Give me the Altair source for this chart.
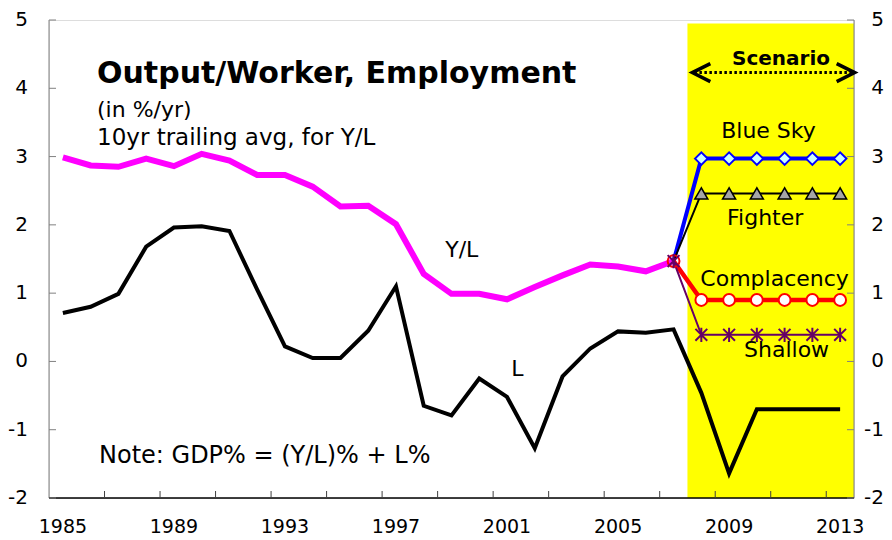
import altair as alt
import pandas as pd

# ---------------- data ----------------
hist_years = list(range(1985, 2008))
yl_values = [2.99, 2.87, 2.85, 2.97, 2.86, 3.04, 2.94, 2.73, 2.73, 2.56, 2.27, 2.28,
             2.01, 1.28, 0.99, 0.99, 0.91, 1.09, 1.26, 1.42, 1.39, 1.32, 1.47]

l_years = list(range(1985, 2014))
l_values = [0.71, 0.80, 0.99, 1.68, 1.96, 1.98, 1.91, 1.05, 0.22, 0.05, 0.05, 0.45,
            1.10, -0.65, -0.79, -0.25, -0.52, -1.27, -0.22, 0.19, 0.44, 0.42, 0.47,
            -0.46, -1.64, -0.70, -0.70, -0.70, -0.70]

scen_years = list(range(2007, 2014))
blue_sky = [1.47, 2.97, 2.97, 2.97, 2.97, 2.97, 2.97]
fighter = [1.47, 2.46, 2.46, 2.46, 2.46, 2.46, 2.46]
complacency = [1.47, 0.90, 0.90, 0.90, 0.90, 0.90, 0.90]
shallow = [1.47, 0.39, 0.39, 0.39, 0.39, 0.39, 0.39]

x_label_years = [1985, 1989, 1993, 1997, 2001, 2005, 2009, 2013]
x_tick_years = [1986.5 + 2 * i for i in range(14)]
y_ticks = [-2, -1, 0, 1, 2, 3, 4, 5]

band_start, band_end = 2007.5, 2013.5
band_top, band_bottom = 4.95, -2

series_labels = ["Blue Sky", "Fighter", "Complacency", "Shallow", "Y/L", "L"]
series_label_x = [2010.42, 2010.3, 2010.64, 2011.07, 1999.37, 2001.37]
series_label_y = [3.27, 2.0, 1.10, 0.07, 1.53, -0.22]

arrow_x = [2007.75, 2013.45]
arrow_head_x = [2008.0, 2013.2]
arrow_y = 4.23

FONT = "DejaVu Sans"
W, H = 805, 478

xs = alt.Scale(domain=[1984.5, 2013.5], nice=False, zero=False)
ys = alt.Scale(domain=[-2, 5], nice=False, zero=False)

# ---------------- frames ----------------
df_yl = pd.DataFrame({"year": hist_years, "v": yl_values})
df_l = pd.DataFrame({"year": l_years, "v": l_values})


def scen_df(vals):
    return pd.DataFrame({"year": scen_years, "v": vals})


df_band = pd.DataFrame({"x": [band_start], "x2": [band_end], "y": [band_top], "y2": [band_bottom]})
df_lab = pd.DataFrame({"t": series_labels, "x": series_label_x, "y": series_label_y})
df_xt = pd.DataFrame({"x": x_tick_years})
df_xl = pd.DataFrame({"x": x_label_years, "t": [str(v) for v in x_label_years]})
df_yt = pd.DataFrame({"y": y_ticks, "t": [str(v) for v in y_ticks]})
df_arrow = pd.DataFrame({"x": [arrow_x[0]], "x2": [arrow_x[1]], "y": [arrow_y]})
df_heads = pd.DataFrame({"x": arrow_head_x, "y": [arrow_y, arrow_y],
                         "s": ["M1,-1L-1,0L1,1", "M-1,-1L1,0L-1,1"]})


def X(f="year"):
    return alt.X(f"{f}:Q", scale=xs, axis=None)


def Y(f="v"):
    return alt.Y(f"{f}:Q", scale=ys, axis=None)


band = alt.Chart(df_band).mark_rect(color="#FFFF00").encode(
    x=X("x"), x2="x2:Q", y=Y("y"), y2="y2:Q")

line_l = alt.Chart(df_l).mark_line(color="#000000", strokeWidth=4, strokeJoin="miter").encode(x=X(), y=Y())
line_yl = alt.Chart(df_yl).mark_line(color="#FF00FF", strokeWidth=6, strokeJoin="miter").encode(x=X(), y=Y())

d_blue = scen_df(blue_sky)
d_fight = scen_df(fighter)
d_comp = scen_df(complacency)
d_shal = scen_df(shallow)

blue_line = alt.Chart(d_blue).mark_line(color="#0000FF", strokeWidth=4).encode(x=X(), y=Y())
blue_pts = alt.Chart(d_blue).transform_filter("datum.year > 2007").mark_point(
    shape="diamond", size=160, filled=True, fill="#CCFFFF", stroke="#0000FF",
    strokeWidth=2, opacity=1).encode(x=X(), y=Y())

fight_line = alt.Chart(d_fight).mark_line(color="#000000", strokeWidth=2).encode(x=X(), y=Y())
fight_pts = alt.Chart(d_fight).transform_filter("datum.year > 2007").mark_point(
    shape="triangle-up", size=170, filled=True, fill="#A6A6A6", stroke="#000000",
    strokeWidth=1.5, opacity=1).encode(x=X(), y=Y())

comp_line = alt.Chart(d_comp).mark_line(color="#FF0000", strokeWidth=4.5).encode(x=X(), y=Y())
comp_pts = alt.Chart(d_comp).transform_filter("datum.year > 2007").mark_point(
    shape="circle", size=140, filled=True, fill="#FFFFFF", stroke="#FF0000",
    strokeWidth=2, opacity=1).encode(x=X(), y=Y())
comp_first = alt.Chart(d_comp).transform_filter("datum.year == 2007").mark_point(
    shape="circle", size=140, filled=False, stroke="#FF0000",
    strokeWidth=2, opacity=1).encode(x=X(), y=Y())

shal_line = alt.Chart(d_shal).mark_line(color="#660066", strokeWidth=2).encode(x=X(), y=Y())
shal_pts = alt.Chart(d_shal).mark_point(
    shape="M-1,-1L1,1M-1,1L1,-1M0,-1.2L0,1.2", size=140, filled=False,
    stroke="#660066", strokeWidth=2, opacity=1).encode(x=X(), y=Y())

# axis lines, tick marks and tick labels (drawn from the tick arrays through the scales)
left_domain = alt.Chart(df_band).mark_rule(color="#808080", strokeWidth=1).encode(
    x=alt.value(0), y=alt.value(0), y2=alt.value(H))
right_domain = alt.Chart(df_band).mark_rule(color="#808080", strokeWidth=1).encode(
    x=alt.value(W), y=alt.value(0), y2=alt.value(H))
bottom_domain = alt.Chart(df_band).mark_rule(color="#000000", strokeWidth=1.5).encode(
    y=alt.value(H), x=alt.value(0), x2=alt.value(W))
left_ticks = alt.Chart(df_yt).mark_rule(color="#808080", strokeWidth=1).encode(
    y=Y("y"), x=alt.value(0), x2=alt.value(7))
right_ticks = alt.Chart(df_yt).mark_rule(color="#808080", strokeWidth=1).encode(
    y=Y("y"), x=alt.value(W - 7), x2=alt.value(W))
bottom_ticks = alt.Chart(df_xt).mark_rule(color="#404040", strokeWidth=1).encode(
    x=X("x"), y=alt.value(H), y2=alt.value(H - 7))
left_labels = alt.Chart(df_yt).mark_text(font=FONT, fontSize=20, color="#000000",
                                         align="right", baseline="middle").encode(
    y=Y("y"), x=alt.value(-21), text="t:N")
right_labels = alt.Chart(df_yt).mark_text(font=FONT, fontSize=20, color="#000000",
                                          align="right", baseline="middle").encode(
    y=Y("y"), x=alt.value(W + 30), text="t:N")
bottom_labels = alt.Chart(df_xl).mark_text(font=FONT, fontSize=19, color="#000000",
                                           align="center", baseline="alphabetic").encode(
    x=X("x"), y=alt.value(H + 35), text="t:N")

labels = alt.Chart(df_lab).mark_text(font=FONT, fontSize=22, color="#000000",
                                     align="center", baseline="alphabetic").encode(
    x=X("x"), y=Y("y"), text="t:N")

arrow_line = alt.Chart(df_arrow).mark_rule(color="#000000", strokeWidth=3,
                                           strokeDash=[2.5, 2.5]).encode(
    x=X("x"), x2="x2:Q", y=Y("y"))
arrow_heads = alt.Chart(df_heads).mark_point(size=324, filled=False, stroke="#000000",
                                             strokeWidth=3.5, opacity=1).encode(
    x=X("x"), y=Y("y"), shape=alt.Shape("s:N", scale=None, legend=None))

scen_text = alt.Chart(pd.DataFrame({"t": ["Scenario"]})).mark_text(
    font=FONT, fontSize=20, fontWeight="bold", align="center", baseline="alphabetic",
    color="#000000").encode(text="t:N", x=alt.value(732), y=alt.value(45))

title = alt.Chart(pd.DataFrame({"t": ["Output/Worker, Employment"]})).mark_text(
    font=FONT, fontSize=30, fontWeight="bold", align="left", baseline="alphabetic",
    color="#000000").encode(text="t:N", x=alt.value(48), y=alt.value(63))
sub1 = alt.Chart(pd.DataFrame({"t": ["(in %/yr)"]})).mark_text(
    font=FONT, fontSize=22, align="left", baseline="alphabetic",
    color="#000000").encode(text="t:N", x=alt.value(48), y=alt.value(97))
sub2 = alt.Chart(pd.DataFrame({"t": ["10yr trailing avg, for Y/L"]})).mark_text(
    font=FONT, fontSize=23, align="left", baseline="alphabetic",
    color="#000000").encode(text="t:N", x=alt.value(48), y=alt.value(125))
note = alt.Chart(pd.DataFrame({"t": ["Note: GDP% = (Y/L)% + L%"]})).mark_text(
    font=FONT, fontSize=24, align="left", baseline="alphabetic",
    color="#000000").encode(text="t:N", x=alt.value(50), y=alt.value(443))

chart = alt.layer(
    band, line_l, line_yl,
    blue_line, fight_line, comp_line, shal_line,
    blue_pts, fight_pts, comp_pts, comp_first, shal_pts,
    left_domain, right_domain, bottom_domain,
    left_ticks, right_ticks, bottom_ticks,
    left_labels, right_labels, bottom_labels,
    labels, arrow_line, arrow_heads, scen_text, title, sub1, sub2, note,
).properties(
    width=W, height=H,
    autosize=alt.AutoSizeParams(type="none"),
    padding={"left": 41, "top": 12, "right": 30, "bottom": 42},
).configure_view(stroke=None).configure(background="#FFFFFF")

chart.save("out.html", embed_options={"renderer": "svg", "actions": False})
